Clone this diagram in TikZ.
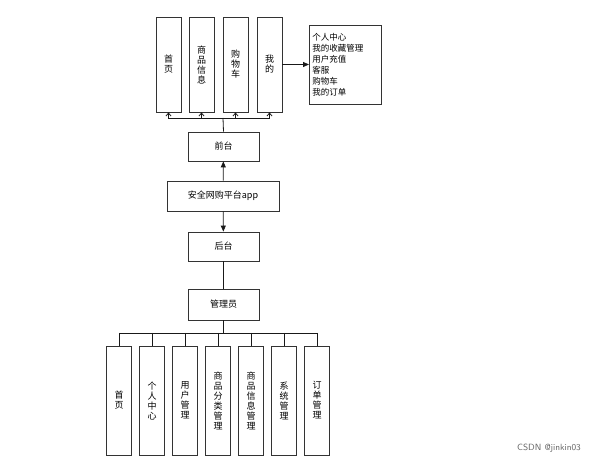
\documentclass[tikz,border=0pt]{standalone}
\usepackage{fontspec}
\setmainfont{Noto Sans CJK SC}
\usetikzlibrary{arrows.meta,positioning}
\tikzset{
  box/.style={draw=black!80, thick, fill=white, inner sep=0pt, font=\fontsize{9}{10}\selectfont},
  vbox/.style={box, minimum width=25pt, minimum height=#1, text width=10pt, align=center},
  hbox/.style={box, minimum height=29pt},
  link/.style={draw=black!90, thick},
  arr/.style={link, -{Triangle[length=6pt,width=5pt]}},
  tip/.style={link, -{Straight Barb[length=3pt,width=5pt]}}
}
\begin{document}
\begin{tikzpicture}[x=1pt,y=-1pt]
\useasboundingbox (0,0) rectangle (611,465);
% front end
\node[vbox=95pt] (home) at (168.5,64.5) {首\\页};
\node[vbox=95pt] (goods) at (201.5,64.5) {商\\品\\信\\息};
\node[vbox=95pt] (cart) at (235.5,64.5) {购\\物\\车};
\node[vbox=95pt] (mine) at (269.5,64.5) {我\\的};
\node[box, minimum width=72pt, minimum height=79pt, align=left, anchor=north west, text width=66pt, inner sep=3pt, font=\fontsize{8.5}{11}\selectfont] (list) at (309,25)
  {个人中心\\我的收藏管理\\用户充值\\客服\\购物车\\我的订单};
\node[hbox, minimum width=71pt] (front) at (223.5,146.5) {前台};
\node[hbox, minimum width=112pt, minimum height=30pt] (app) at (223,196) {安全网购平台app};
\node[hbox, minimum width=71pt] (back) at (223.5,246.5) {后台};
\node[hbox, minimum width=71pt, minimum height=31pt] (admin) at (223.5,304.5) {管理员};
\coordinate (tbus) at (223,118);
\draw[link] (front.north) -- (tbus);
\foreach \n in {home,goods,cart,mine}
  \draw[tip] (tbus -| \n.south) ++(-0.1,0) -| (\n.south);
\draw[link] (home.south |- tbus) -- (mine.south |- tbus);
\draw[arr] (mine.east) -- (list.west |- mine.east);
\draw[arr] (app) -- (front);
\draw[arr] (app) -- (back);
\draw[link] (back) -- (admin);
% back end
\node[vbox=109pt] (b1) at (119,400.5) {首\\页};
\node[vbox=109pt] (b2) at (152,400.5) {个\\人\\中\\心};
\node[vbox=109pt] (b3) at (185,400.5) {用\\户\\管\\理};
\node[vbox=109pt] (b4) at (218,400.5) {商\\品\\分\\类\\管\\理};
\node[vbox=109pt] (b5) at (251,400.5) {商\\品\\信\\息\\管\\理};
\node[vbox=109pt] (b6) at (284,400.5) {系\\统\\管\\理};
\node[vbox=109pt] (b7) at (317,400.5) {订\\单\\管\\理};
\coordinate (bbus) at (223.5,333);
\draw[link] (admin.south) -- (bbus);
\draw[link] (b1.north |- bbus) -- (b7.north |- bbus);
\foreach \n in {b1,b2,b3,b4,b5,b6,b7}
  \draw[link] (\n.north |- bbus) -- (\n.north);
\node[text=black!60, font=\fontsize{9}{10}\selectfont\sffamily] (mark) at (549,448) {CSDN @jinkin03};
\end{tikzpicture}
\end{document}
